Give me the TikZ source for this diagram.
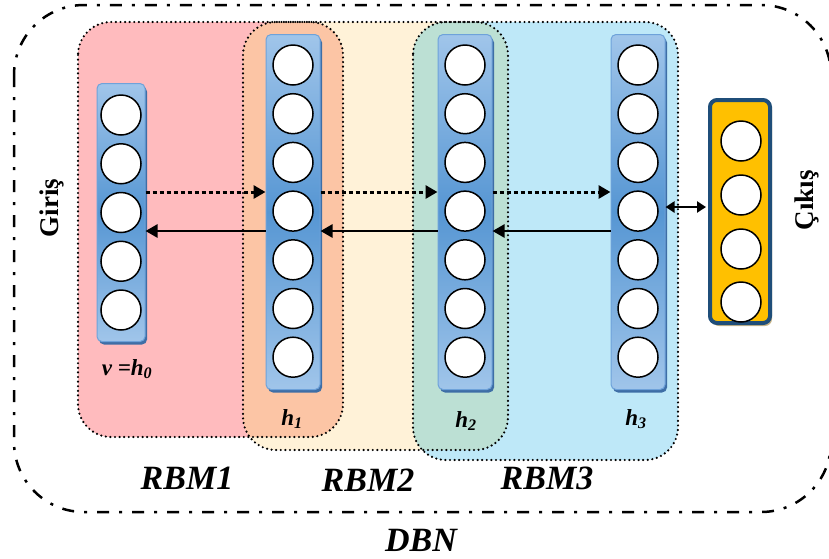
\documentclass[tikz,border=0pt]{standalone}
\usepackage{fontspec}
\setmainfont{Liberation Serif}
\usetikzlibrary{arrows.meta,shadows}
\definecolor{pinkc}{HTML}{FFBBBE}
\definecolor{orangec}{HTML}{FCC5A5}
\definecolor{yellowc}{HTML}{FFF2D8}
\definecolor{greenc}{HTML}{BCE0D4}
\definecolor{bluec}{HTML}{BEE8F8}
\definecolor{collight}{HTML}{A0C5EA}
\definecolor{coldark}{HTML}{5696D3}
\definecolor{colborder}{HTML}{6EA2DA}
\definecolor{colshadow}{HTML}{3E6EA6}
\definecolor{outfill}{HTML}{FFC000}
\definecolor{outborder}{HTML}{1F4E79}
\definecolor{outshadow}{HTML}{C8B58A}
\begin{document}
\begin{tikzpicture}[x=1pt,y=-1pt,
  region/.style={draw=black, line width=2.4pt, line cap=round, dash pattern=on 0pt off 4.6pt, rounded corners=33pt},
  col/.style={rectangle, rounded corners=5pt, draw=colborder, line width=1pt, top color=collight, bottom color=collight, middle color=coldark, inner sep=0pt, drop shadow={shadow xshift=2pt, shadow yshift=-3pt, fill=colshadow, opacity=1}},
  neuron/.style={circle, draw=black, fill=white, line width=1.5pt, minimum size=40pt, inner sep=0pt},
  outbox/.style={rectangle, rounded corners=7pt, draw=outborder, line width=4pt, fill=outfill, inner sep=0pt, minimum width=60pt, minimum height=223pt, drop shadow={shadow xshift=2pt, shadow yshift=-3pt, fill=outshadow, opacity=1}},
  dotarr/.style={line width=3pt, dash pattern=on 4pt off 3pt, -{Triangle[length=12pt,width=13pt]}},
  solarr/.style={line width=2.6pt, -{Triangle[length=12pt,width=13pt]}},
  dblarr/.style={line width=2.6pt, {Triangle[length=9pt,width=11pt]}-{Triangle[length=9pt,width=11pt]}, shorten >=2pt},
  lab/.style={font=\fontsize{23}{26}\selectfont\bfseries\itshape, inner sep=0pt},
  big/.style={font=\fontsize{34}{40}\selectfont\bfseries\itshape, inner sep=0pt},
  side/.style={font=\fontsize{27}{30}\selectfont\bfseries, inner sep=0pt, rotate=90}
]
\useasboundingbox (0,0) rectangle (829,558);
% region fills
\fill[pinkc, rounded corners=33pt] (78,22) rectangle (343,437);
\fill[yellowc, rounded corners=33pt] (243,22) rectangle (508,450);
\fill[bluec, rounded corners=33pt] (413,22) rectangle (678,460);
\begin{scope}
  \clip[rounded corners=33pt] (78,22) rectangle (343,437);
  \fill[orangec, rounded corners=33pt] (243,22) rectangle (508,450);
\end{scope}
\begin{scope}
  \clip[rounded corners=33pt] (243,22) rectangle (508,450);
  \fill[greenc, rounded corners=33pt] (413,22) rectangle (678,460);
\end{scope}
\draw[region] (78,22) rectangle (343,437);
\draw[region] (243,22) rectangle (508,450);
\draw[region] (413,22) rectangle (678,460);
% outer DBN box
\draw[line width=2.5pt, dash pattern=on 12pt off 10pt on 3pt off 10pt, rounded corners=70pt] (14,5) rectangle (831,512);
% columns
\node[col, minimum width=48pt, minimum height=258pt] (v) at (121,212.5) {};
\node[col, minimum width=54pt, minimum height=355pt] (h1) at (293,212) {};
\node[col, minimum width=54pt, minimum height=355pt] (h2) at (465,212) {};
\node[col, minimum width=54pt, minimum height=355pt] (h3) at (638,212) {};
\node[outbox] (out) at (740,211.5) {};
% neurons
\foreach \i/\y in {1/115,2/163.75,3/212.5,4/261.25,5/310}
  \node[neuron] (v\i) at (121,\y) {};
\foreach \c/\x in {h1/293,h2/465,h3/638}
  \foreach \i/\y in {1/65,2/113.7,3/162.4,4/211.1,5/259.8,6/308.5,7/357.2}
    \node[neuron] (\c n\i) at (\x,\y) {};
\foreach \i/\y in {1/141,2/195,3/249,4/302}
  \node[neuron] (o\i) at (741,\y) {};
% arrows
\coordinate (dr) at (0,192);
\coordinate (sr) at (0,231);
\coordinate (br) at (0,207);
\draw[dotarr] (v.east |- dr) -- (h1.west |- dr);
\draw[dotarr] (h1.east |- dr) -- (h2.west |- dr);
\draw[dotarr] (h2.east |- dr) -- (h3.west |- dr);
\draw[solarr] (h1.west |- sr) -- (v.east |- sr);
\draw[solarr] (h2.west |- sr) -- (h1.east |- sr);
\draw[solarr] (h3.west |- sr) -- (h2.east |- sr);
\draw[dblarr] (h3.east |- br) -- (out.west |- br);
% labels
\node[lab] (lv) at (127,369) {v~=h\textsubscript{0}};
\node[lab] (l1) at (292,419) {h\textsubscript{1}};
\node[lab] (l2) at (466,421) {h\textsubscript{2}};
\node[lab] (l3) at (636,419) {h\textsubscript{3}};
\node[big] (r1) at (187,478) {RBM1};
\node[big] (r2) at (368,480) {RBM2};
\node[big] (r3) at (547,478) {RBM3};
\node[big] (dbn) at (421,540) {DBN};
\node[side] (gir) at (52,208) {Giriş};
\node[side] (cik) at (807,200) {Çıkış};
\end{tikzpicture}
\end{document}
